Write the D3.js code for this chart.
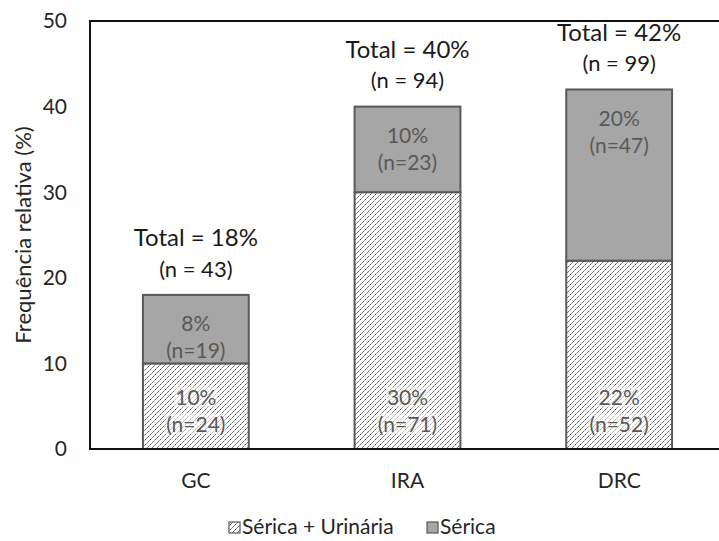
<!DOCTYPE html>
<html>
<head>
<meta charset="utf-8">
<script src="https://cdn.jsdelivr.net/npm/d3@7"></script>
<style>
  html, body { margin: 0; padding: 0; background: #fff; overflow: hidden; }
  svg { display: block; font-family: Lato, "Open Sans", sans-serif; }
</style>
</head>
<body>
<svg id="chart" width="719" height="541"></svg>
<script>
// Categories and stacked series (% of patients), with counts
const categories = ["GC", "IRA", "DRC"];
const sericaUrinaria = [10, 30, 22];
const sericaUrinariaN = [24, 71, 52];
const serica = [8, 10, 20];
const sericaN = [19, 23, 47];
const totals = [18, 40, 42];
const totalsN = [43, 94, 99];
const yTicks = [0, 10, 20, 30, 40, 50];
const seriesNames = ["Sérica + Urinária", "Sérica"];

const svg = d3.select("#chart");
const plotLeft = 90, plotRight = 725, plotTop = 21, plotBottom = 449;

const x = d3.scaleBand()
  .domain(categories)
  .range([plotLeft, plotRight])
  .paddingInner(0.5)
  .paddingOuter(0.25);

const y = d3.scaleLinear().domain([0, 50]).range([plotBottom, plotTop]);

// Hatch pattern for the "Sérica + Urinária" segment
const defs = svg.append("defs");
const pat = defs.append("pattern")
  .attr("id", "hatch")
  .attr("patternUnits", "userSpaceOnUse")
  .attr("width", 5).attr("height", 5);
pat.append("rect").attr("width", 5).attr("height", 5).attr("fill", "#fff");
pat.append("path")
  .attr("d", "M-1,1 l2,-2 M0,5 l5,-5 M4,6 l2,-2")
  .attr("stroke", "#4a4a4a").attr("stroke-width", 1)
  .attr("stroke-dasharray", "2.2,1");

// Y axis tick labels
svg.append("g")
  .selectAll("text")
  .data(yTicks)
  .join("text")
  .attr("x", 67)
  .attr("y", d => y(d))
  .attr("dy", "0.35em")
  .attr("text-anchor", "end")
  .attr("font-size", 21)
  .attr("fill", "#262626")
  .text(d => d);

// Y axis title
svg.append("text")
  .attr("transform", `translate(23,${(plotTop + plotBottom) / 2}) rotate(-90)`)
  .attr("text-anchor", "middle")
  .attr("dy", "0.35em")
  .attr("font-size", 22)
  .attr("fill", "#262626")
  .text("Frequência relativa (%)");

// Bars
const gBars = svg.append("g");
categories.forEach((c, i) => {
  const x0 = x(c), bw = x.bandwidth();
  gBars.append("rect")
    .attr("x", x0).attr("y", y(sericaUrinaria[i]))
    .attr("width", bw).attr("height", y(0) - y(sericaUrinaria[i]))
    .attr("fill", "url(#hatch)")
    .attr("stroke", "#595959").attr("stroke-width", 2);
  gBars.append("rect")
    .attr("x", x0).attr("y", y(sericaUrinaria[i] + serica[i]))
    .attr("width", bw).attr("height", y(sericaUrinaria[i]) - y(sericaUrinaria[i] + serica[i]))
    .attr("fill", "#a6a6a6")
    .attr("stroke", "#595959").attr("stroke-width", 2);
});

// Segment labels
const gLab = svg.append("g").attr("font-size", 21).attr("fill", "#595959").attr("text-anchor", "middle");
function labelWithBg(cx, cy, txt) {
  const t = gLab.append("text").attr("x", cx).attr("y", cy).attr("dy", "0.35em").text(txt);
  const bb = t.node().getBBox();
  gLab.insert("rect", () => t.node())
    .attr("x", bb.x - 1).attr("y", bb.y + 2)
    .attr("width", bb.width + 2).attr("height", bb.height - 4)
    .attr("fill", "#fff").attr("opacity", 0.55);
}
categories.forEach((c, i) => {
  const cx = x(c) + x.bandwidth() / 2;
  // Sérica + Urinária: anchored at base
  labelWithBg(cx, y(0) - 51, sericaUrinaria[i] + "%");
  labelWithBg(cx, y(0) - 24, "(n=" + sericaUrinariaN[i] + ")");
  // Sérica: anchored at top end
  const t = y(sericaUrinaria[i] + serica[i]);
  gLab.append("text").attr("x", cx).attr("y", t + 29).attr("dy", "0.35em").text(serica[i] + "%");
  gLab.append("text").attr("x", cx).attr("y", t + 56).attr("dy", "0.35em").text("(n=" + sericaN[i] + ")");
});

// Totals above bars
const gTot = svg.append("g").attr("text-anchor", "middle").attr("fill", "#1a1a1a");
categories.forEach((c, i) => {
  const cx = x(c) + x.bandwidth() / 2;
  const t = y(totals[i]);
  gTot.append("text").attr("x", cx).attr("y", t - 57).attr("dy", "0.35em")
    .attr("font-size", 24).text("Total = " + totals[i] + "%");
  gTot.append("text").attr("x", cx).attr("y", t - 26).attr("dy", "0.35em")
    .attr("font-size", 22).text("(n = " + totalsN[i] + ")");
});

// Plot-area frame
svg.append("rect")
  .attr("x", plotLeft).attr("y", plotTop)
  .attr("width", plotRight - plotLeft).attr("height", plotBottom - plotTop)
  .attr("fill", "none").attr("stroke", "#111").attr("stroke-width", 2);

// Category labels
svg.append("g")
  .selectAll("text")
  .data(categories)
  .join("text")
  .attr("x", d => x(d) + x.bandwidth() / 2)
  .attr("y", 481)
  .attr("dy", "0.35em")
  .attr("text-anchor", "middle")
  .attr("font-size", 21)
  .attr("fill", "#262626")
  .text(d => d);

// Legend
const leg = svg.append("g").attr("font-size", 21).attr("fill", "#262626");
const legItems = [
  { name: seriesNames[0], fill: "url(#hatch)", x: 229 },
  { name: seriesNames[1], fill: "#a6a6a6", x: 427 }
];
legItems.forEach(d => {
  leg.append("rect").attr("x", d.x).attr("y", 522).attr("width", 11).attr("height", 11)
    .attr("fill", d.fill).attr("stroke", "#595959").attr("stroke-width", 1.2);
  leg.append("text").attr("x", d.x + 13).attr("y", 527).attr("dy", "0.35em").text(d.name);
});
</script>
</body>
</html>
